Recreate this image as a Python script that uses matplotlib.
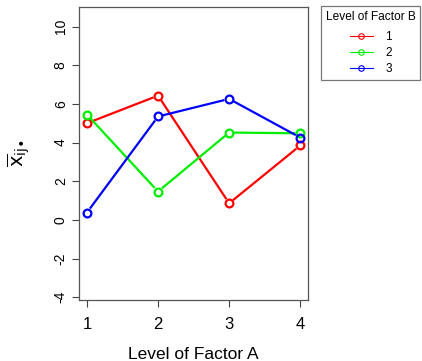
import numpy as np
import matplotlib
matplotlib.use("Agg")
import matplotlib.pyplot as plt
from matplotlib.lines import Line2D

plt.rcParams['font.family'] = ['Liberation Sans', 'DejaVu Sans']

# Cell means by level of factor A (x) and factor B (trace)
levels_a = [1, 2, 3, 4]
levels_b = ['1', '2', '3']
means_b1 = [5.0, 6.43, 0.86, 3.85]
means_b2 = [5.45, 1.47, 4.52, 4.48]
means_b3 = [0.38, 5.35, 6.26, 4.26]
trace_colors = ['#ff0000', '#00ee00', '#0000ff']

fig = plt.figure(figsize=(4.22, 3.61), dpi=100)
ax = fig.add_axes([0.187, 0.169, 0.543, 0.812])
ax.set_xlim(0.887, 4.11)
ax.set_ylim(-4.14, 11.02)
fig.canvas.draw()

gap_px = 5.0  # distance between point centre and segment end (type="b" style)


def draw_trace(xs, ys, color):
    pts = ax.transData.transform(np.column_stack([xs, ys]))
    inv = ax.transData.inverted()
    for p0, p1 in zip(pts[:-1], pts[1:]):
        d = p1 - p0
        n = np.hypot(*d)
        if n <= 2 * gap_px:
            continue
        u = d / n
        a = inv.transform(p0 + u * gap_px)
        b = inv.transform(p1 - u * gap_px)
        ax.plot([a[0], b[0]], [a[1], b[1]], color=color, lw=1.6,
                solid_capstyle='butt')
    ax.plot(xs, ys, linestyle='none', marker='o', markersize=5.6,
            markerfacecolor='none', markeredgecolor=color, markeredgewidth=1.6)


for vals, col in zip([means_b1, means_b2, means_b3], trace_colors):
    draw_trace(levels_a, vals, col)

ax.set_xticks(levels_a)
ax.set_xticklabels([str(v) for v in levels_a], fontsize=12)
ax.set_yticks([-4, -2, 0, 2, 4, 6, 8, 10])
ax.set_yticklabels(['-4', '-2', '0', '2', '4', '6', '8', '10'], fontsize=10,
                   rotation=90, va='center')
ax.tick_params(direction='out', length=5, width=0.8, color='#444444', pad=3)
ax.tick_params(axis='x', pad=7)
for s in ax.spines.values():
    s.set_color('#555555')
    s.set_linewidth(0.9)

ax.set_xlabel('Level of Factor A', fontsize=12.5, labelpad=11)
fig.text(0.045, 0.576, r'$\overline{\mathrm{x}}_{\mathrm{ij}\!\bullet}$',
         rotation=90, fontsize=14, ha='center', va='center')

handles = [Line2D([0], [0], color=c, lw=0.8, marker='o', markersize=4,
                  markerfacecolor='none', markeredgewidth=0.8)
           for c in trace_colors]
leg = fig.legend(handles, levels_b, title='Level of Factor B',
                 loc='upper left', bbox_to_anchor=(321 / 422, 1 - 6 / 361),
                 fontsize=8.5, title_fontsize=8.6, frameon=True, fancybox=False,
                 handlelength=2.0, borderpad=0.4, labelspacing=0.35,
                 handletextpad=1.0, borderaxespad=0)
leg._legend_box.sep = 6
leg.get_frame().set_edgecolor('#555555')
leg.get_frame().set_linewidth(0.9)

fig.savefig('out.png', dpi=100)
